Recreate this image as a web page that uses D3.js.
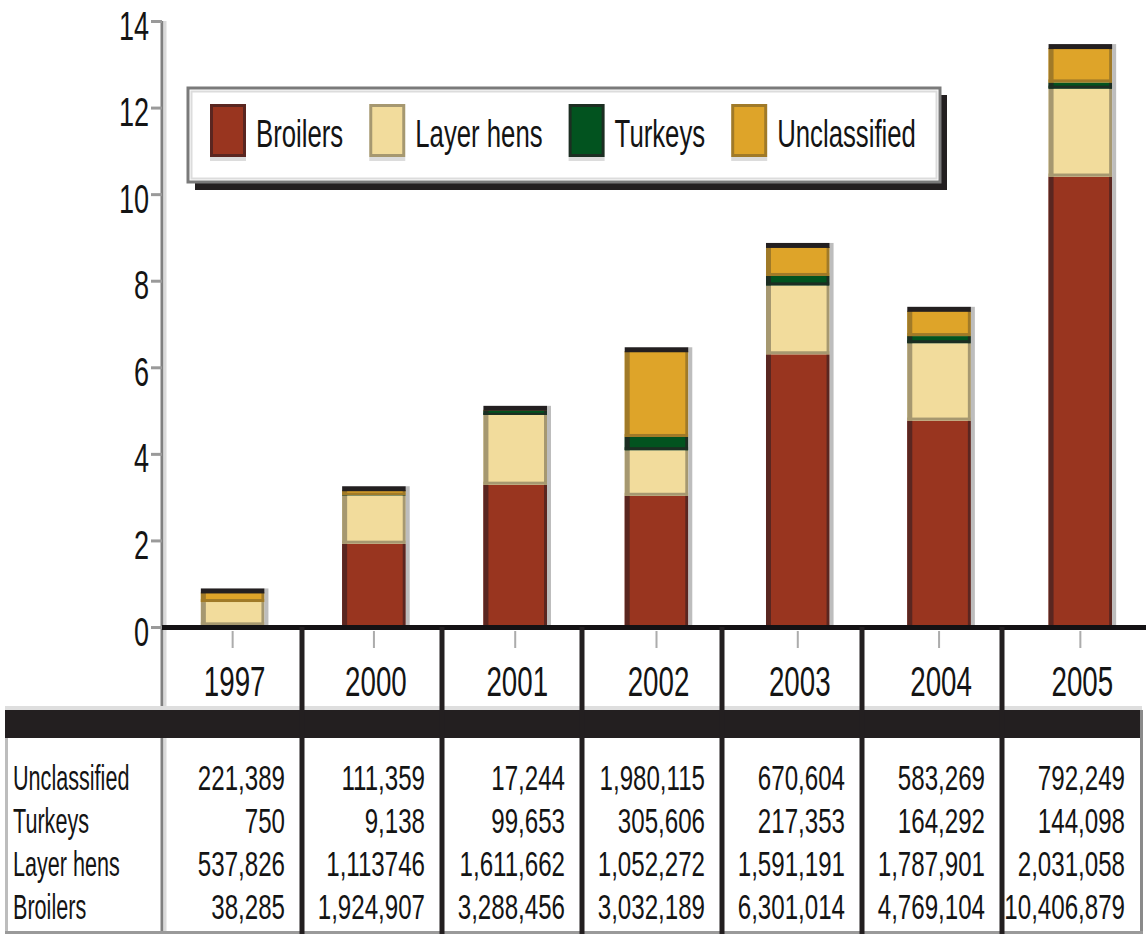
<!DOCTYPE html>
<html>
<head>
<meta charset="utf-8">
<script src="https://cdn.jsdelivr.net/npm/d3@7"></script>
<style>
  html, body { margin: 0; padding: 0; background: #fff; }
  svg { display: block; }
  text { font-family: "Liberation Sans", Arial, sans-serif; fill: #141414; }
</style>
</head>
<body>
<svg id="chart" width="1146" height="934"></svg>
<script>
// ---- data (head counts per year, as printed in the table) ----
const years = ["1997", "2000", "2001", "2002", "2003", "2004", "2005"];
const seriesNames = ["Broilers", "Layer hens", "Turkeys", "Unclassified"];
const broilersLabels     = ["38,285", "1,924,907", "3,288,456", "3,032,189", "6,301,014", "4,769,104", "10,406,879"];
const layerHensLabels    = ["537,826", "1,113746", "1,611,662", "1,052,272", "1,591,191", "1,787,901", "2,031,058"];
const turkeysLabels      = ["750", "9,138", "99,653", "305,606", "217,353", "164,292", "144,098"];
const unclassifiedLabels = ["221,389", "111,359", "17,244", "1,980,115", "670,604", "583,269", "792,249"];
const yTicks = [0, 2, 4, 6, 8, 10, 12, 14];

// table rows, top to bottom
const tableRows = [
  { name: "Unclassified", labels: unclassifiedLabels },
  { name: "Turkeys",      labels: turkeysLabels },
  { name: "Layer hens",   labels: layerHensLabels },
  { name: "Broilers",     labels: broilersLabels }
];

const fillColors = { "Broilers": "#99351f", "Layer hens": "#f2dc9c", "Turkeys": "#02531f", "Unclassified": "#dea429" };
const edgeColors = { "Broilers": "#5a2620", "Layer hens": "#a69870", "Turkeys": "#1c2e22", "Unclassified": "#a07a28" };

const toMillions = s => +s.replace(/,/g, "") / 1e6;
const seriesLabels = {
  "Broilers": broilersLabels, "Layer hens": layerHensLabels,
  "Turkeys": turkeysLabels, "Unclassified": unclassifiedLabels
};
const rows = years.map((yr, i) => {
  const r = { year: yr };
  seriesNames.forEach(k => { r[k] = toMillions(seriesLabels[k][i]); });
  return r;
});

// ---- layout ----
const svg = d3.select("#chart");
const plotLeft = 162, plotRight = 1151;
const tableLeft = 5, tableRight = 1142;
const axisY = 627, bandTop = 710, bandBottom = 738, tableBottom = 932;

const x = d3.scaleBand().domain(years).range([plotLeft, plotRight]).padding(0);
const y = d3.scaleLinear().domain([0, 14]).range([axisY, 21]);
const tx = d3.scaleBand().domain(years).range([plotLeft, tableRight]).padding(0);
const barW = x.bandwidth() * 0.45;
const barX = yr => x(yr) + (x.bandwidth() - barW) / 2;

// condensed text: scale horizontally around the anchor point
function condense(sel, sx) {
  sel.each(function () {
    const t = d3.select(this);
    const px = +t.attr("x") || 0, py = +t.attr("y") || 0;
    t.attr("x", 0).attr("y", 0).attr("transform", `translate(${px},${py}) scale(${sx},1)`);
  });
}

// ---- stacked bars ----
const stacked = d3.stack().keys(seriesNames)(rows);
const barsG = svg.append("g");
stacked.forEach(layer => {
  const key = layer.key;
  layer.forEach((d, i) => {
    const x0 = barX(years[i]);
    const yt = y(d[1]), yb = y(d[0]);
    const h = yb - yt;
    if (h < 0.3) return;
    barsG.append("rect").attr("x", x0).attr("y", yt).attr("width", barW).attr("height", h)
      .attr("fill", fillColors[key]);
    barsG.append("rect").attr("x", x0).attr("y", yt).attr("width", 5).attr("height", h)
      .attr("fill", edgeColors[key]);
    barsG.append("rect").attr("x", x0 + barW - 3).attr("y", yt).attr("width", 3).attr("height", h)
      .attr("fill", edgeColors[key]);
    if (key !== "Broilers") {
      const sh = Math.min(3, h * 0.5);
      barsG.append("rect").attr("x", x0).attr("y", yb - sh).attr("width", barW)
        .attr("height", sh).attr("fill", edgeColors[key]);
    }
  });
});
// shadow on the right side and dark cap on each stack
const topLayer = stacked[stacked.length - 1];
topLayer.forEach((d, i) => {
  const x0 = barX(years[i]);
  barsG.append("rect").attr("x", x0 + barW).attr("y", y(d[1]) - 4).attr("width", 4)
    .attr("height", axisY - y(d[1]) + 4).attr("fill", "#bdbdbd");
  barsG.append("rect").attr("x", x0).attr("y", y(d[1]) - 4).attr("width", barW).attr("height", 5)
    .attr("fill", "#231f20");
});

// ---- y axis ----
svg.append("rect").attr("x", 160.5).attr("y", y(14)).attr("width", 3).attr("height", 934 - y(14)).attr("fill", "#808080");
svg.append("rect").attr("x", 163.5).attr("y", y(14)).attr("width", 3).attr("height", 934 - y(14)).attr("fill", "#dadada");

const yAxis = d3.axisLeft(y).tickValues(yTicks).tickSize(11).tickSizeOuter(0).tickFormat(d3.format("d"));
const ga = svg.append("g").attr("transform", `translate(${plotLeft},0)`).call(yAxis);
ga.select(".domain").remove();
ga.selectAll(".tick line").attr("stroke", "#9a9a9a").attr("stroke-width", 3);
ga.selectAll(".tick text")
  .attr("font-size", 41).attr("fill", "#141414").attr("text-anchor", "end")
  .attr("font-family", "Liberation Sans, Arial, sans-serif")
  .attr("dy", null).attr("x", -13).attr("y", 18);
condense(ga.selectAll(".tick text"), 0.66);

// ---- x axis line + ticks ----
svg.append("rect").attr("x", plotLeft).attr("y", axisY - 2).attr("width", 1146 - plotLeft).attr("height", 5)
  .attr("fill", "#141214");
svg.append("g").selectAll("rect").data(years).join("rect")
  .attr("x", d => x(d) + x.bandwidth() / 2 - 1).attr("y", axisY + 4).attr("width", 2).attr("height", 17)
  .attr("fill", "#acacac");

// year labels
const yearText = svg.append("g").selectAll("text").data(years).join("text")
  .attr("x", d => x(d) + x.bandwidth() / 2 + 2).attr("y", 696)
  .attr("text-anchor", "middle").attr("font-size", 42).text(d => d);
condense(yearText, 0.66);

// ---- table ----
svg.append("rect").attr("x", tableLeft).attr("y", bandTop - 4).attr("width", tableRight - tableLeft).attr("height", 4)
  .attr("fill", "#dedede");
svg.append("rect").attr("x", tableLeft).attr("y", bandTop).attr("width", tableRight - 2 - tableLeft)
  .attr("height", bandBottom - bandTop).attr("fill", "#231f20");
svg.append("rect").attr("x", tableLeft).attr("y", bandBottom).attr("width", 3).attr("height", tableBottom - bandBottom)
  .attr("fill", "#bdbdbd");
svg.append("rect").attr("x", tableRight - 2).attr("y", bandTop).attr("width", 3).attr("height", tableBottom - bandTop + 2)
  .attr("fill", "#8a8a8a");
svg.append("rect").attr("x", tableLeft).attr("y", tableBottom - 1).attr("width", tableRight - tableLeft + 1).attr("height", 3)
  .attr("fill", "#9a9a9a");

// column separators
svg.append("g").selectAll("rect").data(years.slice(1)).join("rect")
  .attr("x", d => tx(d) - 2.5).attr("y", axisY).attr("width", 5).attr("height", 934 - axisY)
  .attr("fill", "#231f20");

const rowBaselines = d3.scalePoint().domain(tableRows.map(r => r.name)).range([790, 919]);
const labelText = svg.append("g").selectAll("text").data(tableRows).join("text")
  .attr("x", 13).attr("y", d => rowBaselines(d.name)).attr("font-size", 36).text(d => d.name);
condense(labelText, 0.6);

tableRows.forEach(r => {
  const t = svg.append("g").selectAll("text").data(r.labels).join("text")
    .attr("x", (d, i) => tx(years[i]) + tx.bandwidth() - 17)
    .attr("y", rowBaselines(r.name))
    .attr("text-anchor", "end").attr("font-size", 36).text(d => d);
  condense(t, 0.67);
});

// ---- legend ----
const lg = svg.append("g");
const lgX = 188, lgY = 88, lgW = 752, lgH = 94;
lg.append("rect").attr("x", lgX + 7).attr("y", lgY + lgH).attr("width", lgW).attr("height", 8).attr("fill", "#231f20");
lg.append("rect").attr("x", lgX + lgW).attr("y", lgY + 7).attr("width", 7).attr("height", lgH + 1).attr("fill", "#231f20");
lg.append("rect").attr("x", lgX).attr("y", lgY).attr("width", lgW).attr("height", lgH)
  .attr("fill", "#fff").attr("stroke", "#7a7a7a").attr("stroke-width", 3);
lg.append("rect").attr("x", lgX + 3.5).attr("y", lgY + 3.5).attr("width", lgW - 7).attr("height", lgH - 7)
  .attr("fill", "none").attr("stroke", "#dcdcdc").attr("stroke-width", 2);

let cursor = 210;
seriesNames.forEach(k => {
  lg.append("rect").attr("x", cursor).attr("y", 157).attr("width", 36).attr("height", 4).attr("fill", "#dcdcdc");
  lg.append("rect").attr("x", cursor + 1.5).attr("y", 105.5).attr("width", 33).attr("height", 50)
    .attr("fill", fillColors[k]).attr("stroke", edgeColors[k]).attr("stroke-width", 3);
  const t = lg.append("text").attr("x", cursor + 46).attr("y", 147).attr("font-size", 39).text(k);
  const w = t.node().getComputedTextLength() * 0.66;
  condense(t, 0.66);
  cursor = cursor + 46 + w + 26;
});
</script>
</body>
</html>
